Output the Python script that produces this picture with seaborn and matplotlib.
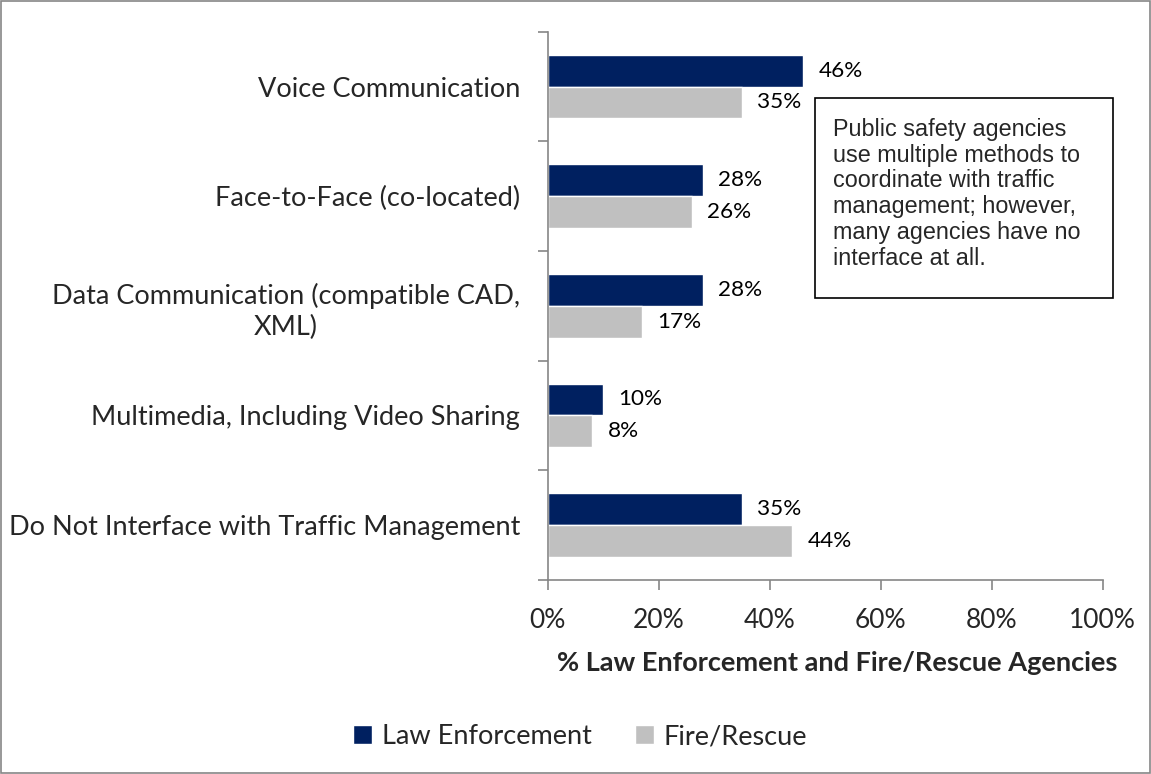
import matplotlib
matplotlib.use("Agg")
import matplotlib.pyplot as plt
import seaborn as sns
import pandas as pd
import numpy as np
from matplotlib.patches import Rectangle

categories = ["Voice Communication", "Face-to-Face (co-located)",
              "Data Communication (compatible CAD,\nXML)",
              "Multimedia, Including Video Sharing",
              "Do Not Interface with Traffic Management"]
law_enforcement = [46, 28, 28, 10, 35]
fire_rescue = [35, 26, 17, 8, 44]
series_names = ["Law Enforcement", "Fire/Rescue"]
x_ticks = [0, 20, 40, 60, 80, 100]
x_ticklabels = ["0%", "20%", "40%", "60%", "80%", "100%"]

df = pd.DataFrame({
    "Category": categories * 2,
    "Value": law_enforcement + fire_rescue,
    "Series": [series_names[0]] * len(categories) + [series_names[1]] * len(categories),
})

sns.set_style("white")
plt.rcParams['font.family'] = ['Lato', 'DejaVu Sans']

fig = plt.figure(figsize=(11.51, 7.74), dpi=100)
ax = fig.add_axes([0.476, 0.251, 0.482, 0.708])

palette = {"Law Enforcement": "#002060", "Fire/Rescue": "#C0C0C0"}
sns.barplot(data=df, y="Category", x="Value", hue="Series", order=categories,
            hue_order=series_names, palette=palette, width=0.58, orient="h",
            saturation=1, ax=ax, legend=True)

# value labels
for container in ax.containers:
    ax.bar_label(container, labels=[f"{int(round(v))}%" for v in container.datavalues],
                 padding=11, fontsize=16.2, color="black")

ax.set_xlim(0, 100)
ax.set_ylim(len(categories) - 0.5, -0.5)
ax.set_xticks(x_ticks)
ax.set_xticklabels(x_ticklabels, fontsize=19)
ax.tick_params(axis="x", direction="out", length=7, color="#868686", width=1.2, pad=13, bottom=True)
ax.set_yticks(range(len(categories)))
ax.set_yticklabels(categories, fontsize=19.5, ha="right", multialignment="center", linespacing=1.3)
ax.tick_params(axis="y", length=0, pad=20)
ax.set_yticks(np.arange(-0.5, len(categories), 1.0), minor=True)
ax.tick_params(axis="y", which="minor", direction="out", length=7, color="#868686", width=1.2, left=True)

for s in ["top", "right"]:
    ax.spines[s].set_visible(False)
for s in ["left", "bottom"]:
    ax.spines[s].set_color("#868686")
    ax.spines[s].set_linewidth(1.2)

ax.set_ylabel("")
ax.set_xlabel("% Law Enforcement and Fire/Rescue Agencies", fontsize=19.5, fontweight="bold", labelpad=16)
ax.xaxis.set_label_coords(0.522, -0.13)

# legend
leg = ax.legend(loc="center", bbox_to_anchor=(0.504, 0.048), bbox_transform=fig.transFigure,
                ncol=2, frameon=False, fontsize=19.5, handlelength=0.7, handleheight=0.7,
                columnspacing=1.6, handletextpad=0.35)

# annotation box
fig.text(0.7237, 0.8475, "Public safety agencies\nuse multiple methods to\ncoordinate with traffic\nmanagement; however,\nmany agencies have no\ninterface at all.",
         fontsize=16.8, family=["Liberation Sans", "DejaVu Sans"], va="top", ha="left", linespacing=1.15)
fig.patches.append(Rectangle((815 / 1151, 1 - 298 / 774), (1113 - 815) / 1151, (298 - 98) / 774,
                             transform=fig.transFigure, fill=False, edgecolor="black", linewidth=1.2))

# figure border
fig.patches.append(Rectangle((0.001, 0.001), 0.998, 0.998, transform=fig.transFigure,
                             fill=False, edgecolor="#868686", linewidth=1.2))

fig.savefig("out.png", dpi=100)
